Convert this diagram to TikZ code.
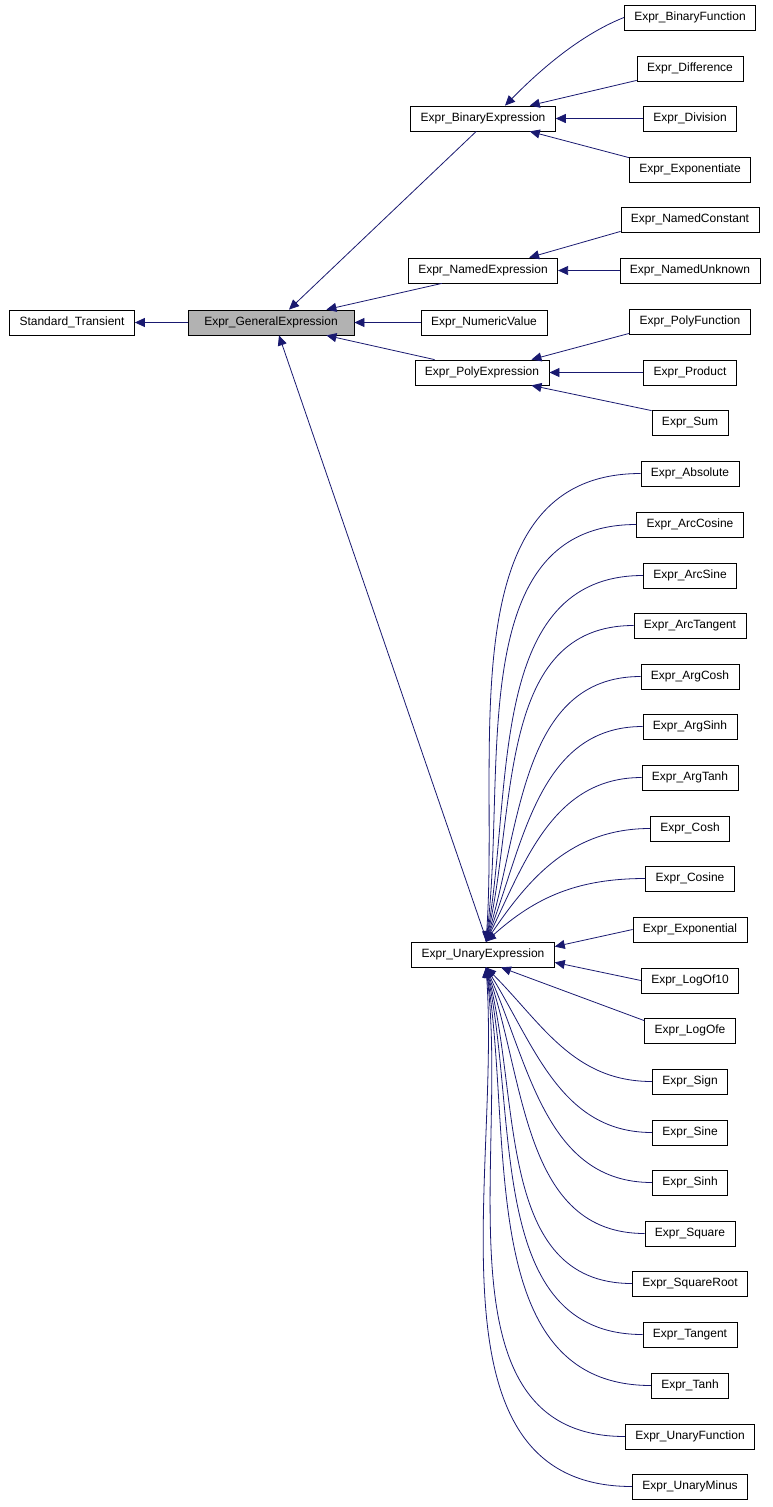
\documentclass[tikz,border=0pt]{standalone}
\usepackage{fontspec}
\setmainfont{Liberation Sans}
\usetikzlibrary{arrows.meta,calc}
\begin{document}
\begin{tikzpicture}[x=1pt,y=-1pt,
 box/.style={draw,thick,fill=white,minimum height=25pt,inner xsep=10pt,font=\fontsize{12}{13}\selectfont},
 arr/.style={color={rgb,255:red,25;green,25;blue,112},thick,-{Triangle[length=10pt,width=9pt]}}]
\useasboundingbox (0,0) rectangle (772,1507);
\node[box] (st) at (72,322.5) {Standard\_Transient};
\node[box,fill=gray!60,minimum width=166pt] (ge) at (271,322.5) {Expr\_GeneralExpression};
\node[box] (be) at (483,118.5) {Expr\_BinaryExpression};
\node[box] (ne) at (483,270.5) {Expr\_NamedExpression};
\node[box] (nv) at (484,322.5) {Expr\_NumericValue};
\node[box] (pe) at (482,372.5) {Expr\_PolyExpression};
\node[box] (ue) at (483,954.5) {Expr\_UnaryExpression};
\foreach \n/\t/\y in {bf/BinaryFunction/17.5,di/Difference/68.5,dv/Division/118.5,ex/Exponentiate/169.5,
 nc/NamedConstant/219.5,nu/NamedUnknown/270.5,pf/PolyFunction/321.5,pr/Product/372.5,su/Sum/422.5}
 \node[box] (\n) at (690,\y) {Expr\_\t};
\foreach \n/\t/\y in {u1/Absolute/473.5,u2/ArcCosine/524.5,u3/ArcSine/575.5,u4/ArcTangent/625.5,u5/ArgCosh/676.5,
 u6/ArgSinh/726.5,u7/ArgTanh/777.5,u8/Cosh/828.5,u9/Cosine/878.5,u10/Exponential/929.5,u11/LogOf10/980.5,
 u12/LogOfe/1030.5,u13/Sign/1081.5,u14/Sine/1132.5,u15/Sinh/1182.5,u16/Square/1233.5,u17/SquareRoot/1283.5,
 u18/Tangent/1334.5,u19/Tanh/1385.5,u20/UnaryFunction/1436.5,u21/UnaryMinus/1486.5}
 \node[box] (\n) at (690,\y) {Expr\_\t};
% main
\draw[arr] (ge) -- (st);
\draw[arr] ($(be.south west)+(66,0)$) -- ($(ge.north)+(18,0)$);
\draw[arr] ($(ne.south west)+(34,0)$) -- ($(ge.north east)+(-28,0)$);
\draw[arr] (nv) -- (ge);
\draw[arr] ($(pe.north west)+(20,0)$) -- ($(ge.south east)+(-28,0)$);
\draw[arr] ($(ue.north)+(4,0)$) -- ($(ge.south)+(8,0)$);
% binary
\draw[arr] (bf.west) .. controls (580,35) and (540,70) .. ($(be.north)+(22,0)$);
\draw[arr] ($(di.south west)+(0,-1)$) -- ($(be.north east)+(-26,0)$);
\draw[arr] (dv) -- (be);
\draw[arr] ($(ex.north west)+(0,1)$) -- ($(be.south east)+(-26,0)$);
\draw[arr] ($(nc.south west)+(0,-1)$) -- ($(ne.north east)+(-29,0)$);
\draw[arr] (nu) -- (ne);
\draw[arr] ($(pf.south west)+(0,-1)$) -- ($(pe.north east)+(-18,0)$);
\draw[arr] (pr) -- (pe);
\draw[arr] ($(su.north west)+(0,1)$) -- ($(pe.south east)+(-18,0)$);
% unary above
\foreach \n/\a in {u1/86,u2/83,u3/80,u4/77,u5/73,u6/69,u7/64,u8/56,u9/42}
 \draw[arr] (\n.west) to[out=180,in=\a] ($(ue.north)+(3,0)$);
\draw[arr] (u10.west) -- ($(ue.north east)+(0,5)$);
\draw[arr] (u11.west) -- ($(ue.south east)+(0,-5)$);
\draw[arr] ($(u12.north west)+(0,3)$) -- ($(ue.south)+(18,0)$);
\foreach \n/\a in {u13/-45,u14/-58,u15/-66,u16/-71,u17/-75,u18/-78,u19/-81,u20/-83,u21/-86}
 \draw[arr] (\n.west) to[out=180,in=\a] ($(ue.south)+(3,0)$);
\end{tikzpicture}
\end{document}
